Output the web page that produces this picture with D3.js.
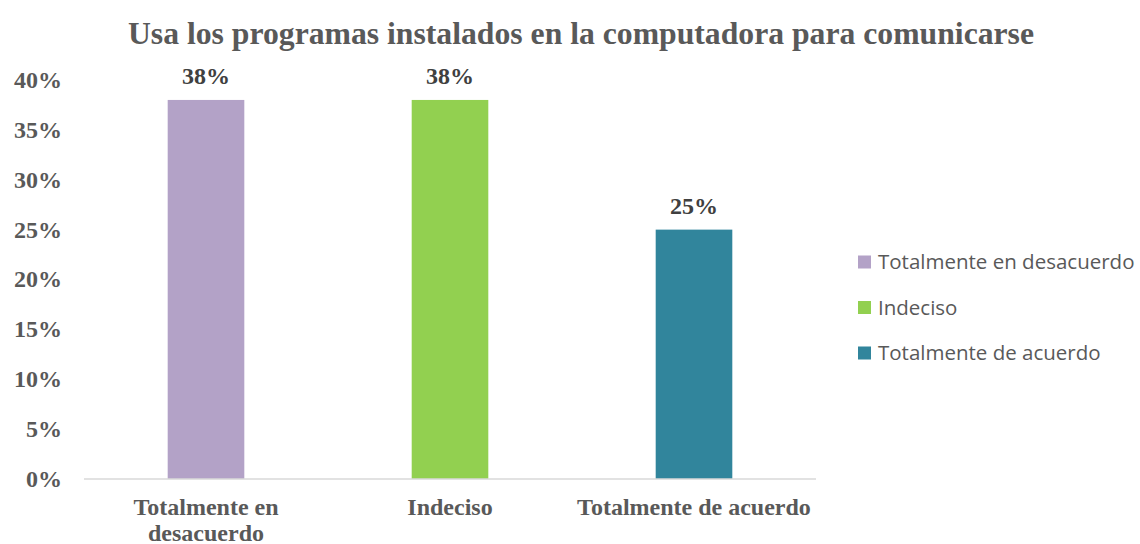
<!DOCTYPE html>
<html>
<head>
<meta charset="utf-8">
<script src="https://cdn.jsdelivr.net/npm/d3@7"></script>
<style>
  body { margin: 0; background: #fff; overflow: hidden; }
  .tick-label { font-family: "Liberation Serif", "Times New Roman", serif; font-weight: bold; font-size: 24px; fill: #595959; }
  .bar-text { font-family: "Liberation Serif", "Times New Roman", serif; font-weight: bold; font-size: 24px; fill: #404040; }
  .legend-text { font-family: "Open Sans", "Noto Sans", sans-serif; font-size: 20.5px; fill: #595959; }
</style>
</head>
<body>
<div id="chart"></div>
<script>
// chart data
const categories = ["Totalmente en desacuerdo", "Indeciso", "Totalmente de acuerdo"];
const values = [38, 38, 25];
const colors = ["#B3A2C7", "#92D050", "#31859C"];
const yTicks = [0, 5, 10, 15, 20, 25, 30, 35, 40];
// axis labels wrap like the original
const xLabels = [["Totalmente en", "desacuerdo"], ["Indeciso"], ["Totalmente de acuerdo"]];

const width = 1140, height = 544;
const plotLeft = 84, plotRight = 816, plotTop = 80, plotBottom = 479;

let svg = d3.select("#chart").append("svg")
    .attr("width", width)
    .attr("height", height)
    .style("display", "block");

// title
svg.append("text")
    .attr("x", 581)
    .attr("y", 44)
    .attr("text-anchor", "middle")
    .style("font-family", '"Liberation Serif", "Times New Roman", serif')
    .style("font-weight", "bold")
    .style("font-size", "31.7px")
    .style("fill", "#595959")
    .text("Usa los programas instalados en la computadora para comunicarse");

let x = d3.scaleBand()
    .domain(categories)
    .range([plotLeft, plotRight])
    .paddingInner(0.686)
    .paddingOuter(0.343);

let y = d3.scaleLinear()
    .domain([0, 40])
    .range([plotBottom, plotTop]);

// y tick labels
svg.selectAll(".ytick")
    .data(yTicks)
    .enter()
    .append("text")
    .attr("class", "tick-label ytick")
    .attr("x", 62)
    .attr("y", d => y(d))
    .attr("dy", "0.33em")
    .attr("text-anchor", "end")
    .text(d => d + "%");

// bars
svg.selectAll("rect.bar")
    .data(categories)
    .enter()
    .append("rect")
    .attr("class", "bar")
    .attr("x", d => x(d))
    .attr("y", (d, i) => y(values[i]))
    .attr("width", x.bandwidth())
    .attr("height", (d, i) => y(0) - y(values[i]))
    .attr("fill", (d, i) => colors[i]);

// baseline
svg.append("line")
    .attr("x1", plotLeft)
    .attr("x2", plotRight)
    .attr("y1", y(0))
    .attr("y2", y(0))
    .attr("stroke", "#D9D9D9")
    .attr("stroke-width", 1.5);

// value labels
svg.selectAll(".bar-text")
    .data(categories)
    .enter()
    .append("text")
    .attr("class", "bar-text")
    .attr("x", d => x(d) + x.bandwidth() / 2)
    .attr("y", (d, i) => y(values[i]) - 16)
    .attr("text-anchor", "middle")
    .text((d, i) => values[i] + "%");

// category labels
categories.forEach((c, i) => {
    let t = svg.append("text")
        .attr("class", "tick-label")
        .attr("text-anchor", "middle")
        .attr("y", 515);
    xLabels[i].forEach((line, j) => {
        t.append("tspan")
            .attr("x", x(c) + x.bandwidth() / 2)
            .attr("dy", j === 0 ? 0 : 25.5)
            .text(line);
    });
});

// legend
let legend = svg.selectAll(".legend")
    .data(categories)
    .enter()
    .append("g")
    .attr("class", "legend")
    .attr("transform", (d, i) => `translate(858, ${262 + i * 45.5})`);

legend.append("rect")
    .attr("x", 0)
    .attr("y", -6.5)
    .attr("width", 13)
    .attr("height", 13)
    .attr("fill", (d, i) => colors[i]);

legend.append("text")
    .attr("class", "legend-text")
    .attr("x", 20)
    .attr("dy", "0.35em")
    .text(d => d);
</script>
</body>
</html>
